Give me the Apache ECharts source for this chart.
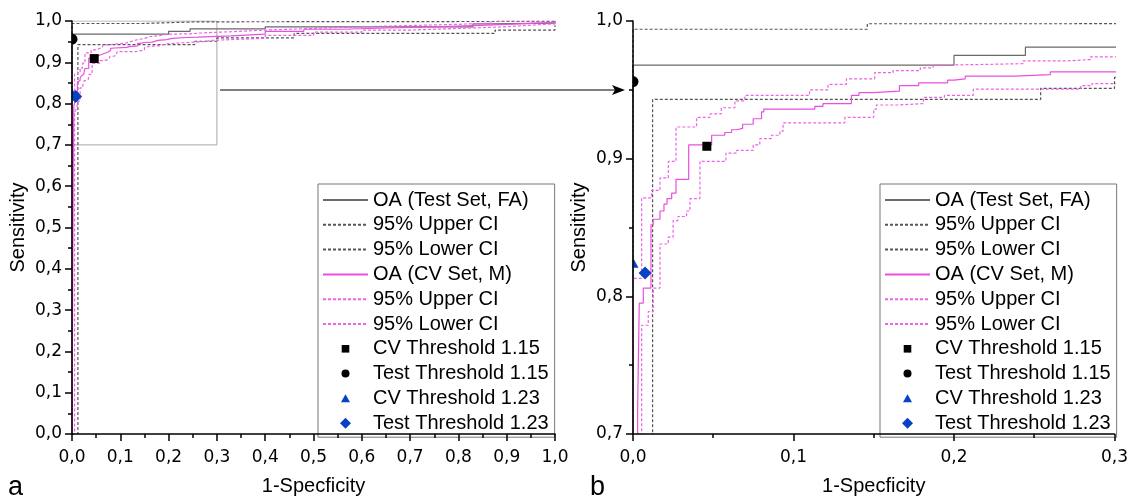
<!DOCTYPE html>
<html>
<head>
<meta charset="utf-8">
<script src="https://cdn.jsdelivr.net/npm/echarts@6/dist/echarts.min.js"></script>
<style>
  html, body { margin: 0; padding: 0; background: #fff; }
  #chart { width: 1131px; height: 501px; }
</style>
</head>
<body>
<div id="chart"></div>
<script>
// colours
const GRAY_SOLID = '#6a6a6a'
const GRAY_DASH = '#555555'
const PINK_SOLID = '#ea4fde'
const PINK_DASH = '#ef62e6'
const BLUE = '#0842c4'

// ROC step curves, [1-specificity, sensitivity] at each step
const testOA = [[0, 0], [0, 0.968], [0.2, 0.975], [0.2445, 0.981], [0.40, 0.986], [0.83, 0.993], [0.87, 0.995], [1.0, 1.0]]
const testUpper = [[0, 0], [0, 0.994], [0.146, 0.998], [0.26, 0.999], [1.0, 1.0]]
const testLower = [[0, 0], [0.0122, 0.943], [0.254, 0.951], [0.30, 0.959], [0.46, 0.970], [0.876, 0.978], [1.0, 0.99]]

const cvOA = [[0, 0], [0.0029, 0.7195], [0.0039, 0.795], [0.0064, 0.806], [0.0112, 0.852], [0.0126, 0.856],
  [0.0168, 0.862], [0.0193, 0.867], [0.0212, 0.871], [0.0241, 0.875], [0.0268, 0.885], [0.0347, 0.910],
  [0.049, 0.917], [0.0572, 0.919], [0.0614, 0.921], [0.0645, 0.922], [0.0683, 0.925], [0.0749, 0.929],
  [0.0801, 0.934], [0.0815, 0.936], [0.1133, 0.938], [0.1184, 0.940], [0.1361, 0.946], [0.1408, 0.948],
  [0.1492, 0.949], [0.166, 0.953], [0.178, 0.955], [0.196, 0.957], [0.200, 0.958], [0.207, 0.960],
  [0.238, 0.961], [0.260, 0.963], [0.300, 0.964], [0.33, 0.968], [0.40, 0.975], [0.48, 0.980],
  [0.56, 0.983], [0.65, 0.986], [0.75, 0.989], [0.83, 0.992], [0.90, 0.995], [0.96, 0.997], [1.0, 1.0]]
const cvUpper = [[0, 0], [0, 0.813], [0.0054, 0.8715], [0.0116, 0.877], [0.0168, 0.886], [0.022, 0.898],
  [0.0268, 0.923], [0.0396, 0.930], [0.048, 0.9325], [0.055, 0.937], [0.0635, 0.942], [0.0697, 0.946],
  [0.110, 0.950], [0.1215, 0.954], [0.133, 0.958], [0.1506, 0.9625], [0.162, 0.964], [0.179, 0.966],
  [0.187, 0.968], [0.198, 0.969], [0.243, 0.971], [0.27, 0.972], [0.285, 0.974], [0.33, 0.978],
  [0.40, 0.982], [0.50, 0.986], [0.60, 0.989], [0.70, 0.992], [0.80, 0.995], [0.87, 1.0], [1.0, 1.0]]
const cvLower = [[0, 0], [0.0054, 0.779], [0.0095, 0.789], [0.0126, 0.806], [0.0168, 0.838], [0.022, 0.843],
  [0.025, 0.855], [0.028, 0.858], [0.0334, 0.862], [0.0355, 0.871], [0.0417, 0.898], [0.0579, 0.904],
  [0.0645, 0.906], [0.0749, 0.910], [0.079, 0.9146], [0.0863, 0.917], [0.0915, 0.920], [0.0935, 0.926],
  [0.132, 0.930], [0.150, 0.936], [0.1517, 0.939], [0.165, 0.940], [0.181, 0.9445], [0.194, 0.946],
  [0.212, 0.9505], [0.279, 0.953], [0.286, 0.9545], [0.32, 0.958], [0.40, 0.965], [0.50, 0.973],
  [0.60, 0.978], [0.70, 0.982], [0.80, 0.986], [0.90, 0.990], [0.95, 0.993], [1.0, 0.997]]

// threshold points
const cvThr115 = [[0.046, 0.909]]
const testThr115 = [[0, 0.956]]
const cvThr123 = [[0, 0.824]]
const testThr123 = [[0.0075, 0.817]]

// zoom region drawn on panel a
const zoomBox = [[0, 0.7], [0.3, 0.7], [0.3, 1.0], [0, 1.0]]

const names = ['OA (Test Set, FA)', '95% Upper CI', '95% Lower CI', 'OA (CV Set, M)', '95% Upper CI ', '95% Lower CI ',
  'CV Threshold 1.15', 'Test Threshold 1.15', 'CV Threshold 1.23', 'Test Threshold 1.23']

// legend icons for the markers: a 45x12 frame (two empty points) keeps the shape small and centred
const FRAME = 'M0,0 L0,0 M45,12 L45,12 '
const keyIcons = [
  'path://' + FRAME + 'M18.7,2.2 L26.3,2.2 L26.3,9.8 L18.7,9.8 Z',
  'path://' + FRAME + 'M18.5,6 A4,4 0 1,0 26.5,6 A4,4 0 1,0 18.5,6 Z',
  'path://' + FRAME + 'M22.5,1.8 L27,9.8 L18,9.8 Z',
  'path://' + FRAME + 'M22.5,0.5 L28,6 L22.5,11.5 L17,6 Z'
]

const TICK_FONT = 'DejaVu Sans'
const TEXT_FONT = 'Liberation Sans'

const chart = echarts.init(document.getElementById('chart'), null, { renderer: 'canvas' })

const fmt = v => v.toFixed(1).replace('.', ',')

function xAxis (grid, max) {
  return {
    gridIndex: grid, type: 'value', min: 0, max: max, interval: 0.1, z: 6,
    name: '1-Specficity', nameLocation: 'middle', nameGap: 42,
    nameTextStyle: { fontFamily: TEXT_FONT, fontSize: 20, color: '#000' },
    axisLine: { onZero: false, lineStyle: { color: '#000', width: 1.5 } },
    axisTick: { length: 7, lineStyle: { color: '#000', width: 1.5 } },
    minorTick: { show: true, splitNumber: 2, length: 4, lineStyle: { color: '#000', width: 1.5 } },
    axisLabel: { formatter: fmt, fontFamily: TICK_FONT, fontSize: 17, color: '#000', margin: 15 },
    splitLine: { show: false }
  }
}

function yAxis (grid, min) {
  return {
    gridIndex: grid, type: 'value', min: min, max: 1.0, interval: 0.1, z: 6,
    name: 'Sensitivity', nameLocation: 'middle', nameGap: 44,
    nameTextStyle: { fontFamily: TEXT_FONT, fontSize: 20, color: '#000' },
    axisLine: { onZero: false, lineStyle: { color: '#000', width: 1.5 } },
    axisTick: { length: 7, lineStyle: { color: '#000', width: 1.5 } },
    minorTick: { show: true, splitNumber: 2, length: 4, lineStyle: { color: '#000', width: 1.5 } },
    axisLabel: { formatter: fmt, fontFamily: TICK_FONT, fontSize: 17, color: '#000', margin: 10 },
    splitLine: { show: false }
  }
}

function curve (name, data, idx, color, dashed) {
  return {
    name: name, type: 'line', xAxisIndex: idx, yAxisIndex: idx, data: data,
    step: 'end', symbol: 'none', animation: false, z: 3,
    lineStyle: { color: color, width: 1.2, type: dashed ? [3, 2] : 'solid' },
    // hides the dot that the legend puts on line icons
    itemStyle: { color: color, opacity: 0 }
  }
}

// legend entry only: the visible marks come from markerLayer, which clips at the axes
function markerKey (name, idx, color) {
  return {
    name: name, type: 'scatter', xAxisIndex: idx, yAxisIndex: idx, data: [],
    symbolSize: 0, animation: false, itemStyle: { color: color, opacity: 1 }
  }
}

function markerLayer (data, idx, shape, size, color) {
  return {
    type: 'custom', xAxisIndex: idx, yAxisIndex: idx, data: data, clip: true,
    encode: { x: 0, y: 1 }, animation: false, z: 5, silent: true,
    renderItem: function (params, api) {
      const p = api.coord([api.value(0), api.value(1)])
      const h = size / 2
      const style = { fill: color }
      if (shape === 'rect') return { type: 'rect', shape: { x: p[0] - h, y: p[1] - h, width: size, height: size }, style }
      if (shape === 'circle') return { type: 'circle', shape: { cx: p[0], cy: p[1], r: h }, style }
      if (shape === 'triangle') return { type: 'polygon', shape: { points: [[p[0], p[1] - h], [p[0] + h, p[1] + h * 0.8], [p[0] - h, p[1] + h * 0.8]] }, style }
      return { type: 'polygon', shape: { points: [[p[0], p[1] - h], [p[0] + h, p[1]], [p[0], p[1] + h], [p[0] - h, p[1]]] }, style }
    }
  }
}

function panelSeries (idx) {
  return [
    curve(names[0], testOA, idx, GRAY_SOLID, false),
    curve(names[1], testUpper, idx, GRAY_DASH, true),
    curve(names[2], testLower, idx, GRAY_DASH, true),
    curve(names[3], cvOA, idx, PINK_SOLID, false),
    curve(names[4], cvUpper, idx, PINK_DASH, true),
    curve(names[5], cvLower, idx, PINK_DASH, true),
    markerKey(names[6], idx, '#000'),
    markerKey(names[7], idx, '#000'),
    markerKey(names[8], idx, BLUE),
    markerKey(names[9], idx, BLUE),
    markerLayer(cvThr115, idx, 'rect', 9, '#000'),
    markerLayer(testThr115, idx, 'circle', 11, '#000'),
    markerLayer(cvThr123, idx, 'triangle', 11, BLUE),
    markerLayer(testThr123, idx, 'diamond', 13, BLUE)
  ]
}

function legend (left) {
  return {
    data: names.map((n, i) => (i < 6 ? n : { name: n, icon: keyIcons[i - 6] })),
    orient: 'vertical', left: left, top: 184,
    itemWidth: 45, itemHeight: 12, itemGap: 4.8,
    padding: [6, 6, 4, 4],
    backgroundColor: '#fff', borderColor: '#777', borderWidth: 1,
    selectedMode: false,
    textStyle: { fontFamily: TEXT_FONT, fontSize: 20, color: '#000' }
  }
}

const boxSeries = {
  type: 'line', xAxisIndex: 0, yAxisIndex: 0, data: zoomBox, symbol: 'none',
  lineStyle: { color: '#a8a8a8', width: 1 }, animation: false, z: 2, silent: true
}

const option = {
  backgroundColor: '#fff',
  animation: false,
  grid: [
    { left: 72, top: 21, width: 483, height: 418 },
    { left: 633, top: 21, width: 482, height: 418 }
  ],
  xAxis: [xAxis(0, 1.0), xAxis(1, 0.3)],
  yAxis: [yAxis(0, 0), yAxis(1, 0.7)],
  legend: [legend(318), legend(880)],
  series: [boxSeries].concat(panelSeries(0), panelSeries(1)),
  graphic: [
    { type: 'line', shape: { x1: 220, y1: 90, x2: 616, y2: 90 }, style: { stroke: '#000', lineWidth: 1 }, z: 10 },
    { type: 'polygon', shape: { points: [[625, 90], [612, 85], [615, 90], [612, 95]] }, style: { fill: '#000' }, z: 10 },
    { type: 'text', left: 8, top: 474, style: { text: 'a', font: '27px "Liberation Sans"', fill: '#000' } },
    { type: 'text', left: 590, top: 474, style: { text: 'b', font: '27px "Liberation Sans"', fill: '#000' } }
  ]
}

chart.setOption(option)
</script>
</body>
</html>
